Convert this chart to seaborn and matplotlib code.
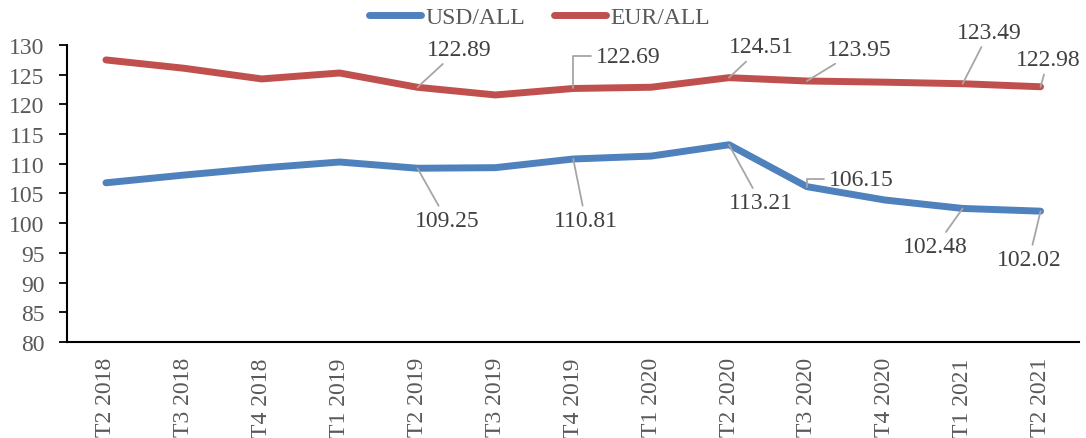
import matplotlib
matplotlib.use("Agg")
import matplotlib.pyplot as plt
import seaborn as sns
import pandas as pd

periods = ["T2 2018", "T3 2018", "T4 2018", "T1 2019", "T2 2019", "T3 2019", "T4 2019",
           "T1 2020", "T2 2020", "T3 2020", "T4 2020", "T1 2021", "T2 2021"]
usd_all = [106.8, 108.1, 109.3, 110.3, 109.25, 109.35, 110.81, 111.3, 113.21, 106.15, 103.9, 102.48, 102.02]
eur_all = [127.5, 126.1, 124.3, 125.3, 122.89, 121.6, 122.69, 122.9, 124.51, 123.95, 123.75, 123.49, 122.98]
series_names = ["USD/ALL", "EUR/ALL"]
colors = ["#4F81BD", "#C0504D"]

usd_labeled = [4, 6, 8, 9, 11, 12]
eur_labeled = [4, 6, 8, 9, 11, 12]

sns.set_theme(style="white")
plt.rcParams['font.family'] = ['Liberation Serif', 'DejaVu Serif']

df = pd.DataFrame({
    "x": list(range(len(periods))) * 2,
    "value": usd_all + eur_all,
    "series": [series_names[0]] * len(periods) + [series_names[1]] * len(periods),
})

fig = plt.figure(figsize=(10.86, 4.39), dpi=100)
ax = fig.add_axes([0.0617, 0.219, 0.9323, 0.676])
sns.lineplot(data=df, x="x", y="value", hue="series", palette=colors, linewidth=5,
             ax=ax, legend=True, solid_capstyle="round")

ax.set_xlim(-0.5, 12.5)
ax.set_ylim(80, 130)
ax.set_yticks(range(80, 131, 5))
ax.set_xticks(range(len(periods)))
ax.set_xticklabels(periods, rotation=90, fontsize=17, color="#595959")
ax.tick_params(axis="y", labelsize=17, labelcolor="#595959", length=6, width=1.3,
               direction="out", left=True, color="black", pad=10)
ax.tick_params(axis="x", length=0, pad=11)
ax.set_xlabel("")
ax.set_ylabel("")
for s in ["top", "right"]:
    ax.spines[s].set_visible(False)
for s in ["left", "bottom"]:
    ax.spines[s].set_color("black")
    ax.spines[s].set_linewidth(1.5)

leg = ax.legend(loc="center", bbox_to_anchor=(0.467, 1.094), ncol=2, frameon=False,
                fontsize=17, handlelength=2.2, columnspacing=1.2, handletextpad=0.2,
                borderaxespad=0, borderpad=0)
for t in leg.get_texts():
    t.set_color("#595959")

lab_kw = dict(fontsize=17, color="#404040", annotation_clip=False)
arrow = dict(arrowstyle="-", color="#A6A6A6", lw=1.3, shrinkA=1, shrinkB=0)
elbow = dict(arrowstyle="-", color="#A6A6A6", lw=1.3, shrinkA=1, shrinkB=0,
             connectionstyle="angle,angleA=0,angleB=90,rad=0")

eur_text_pos = {4: (4.53, 129.3), 6: (6.29, 128.1), 8: (8.42, 129.7), 9: (9.67, 129.3),
                11: (11.34, 132.2), 12: (12.1, 127.6)}
for i in eur_labeled:
    tx, ty = eur_text_pos[i]
    if i == 6:
        ax.annotate(f"{eur_all[i]:.2f}", xy=(i, eur_all[i]), xytext=(tx, ty), ha="left",
                    va="center", arrowprops=elbow, **lab_kw)
    else:
        ax.annotate(f"{eur_all[i]:.2f}", xy=(i, eur_all[i]), xytext=(tx, ty), ha="center",
                    va="center", arrowprops=arrow, **lab_kw)

usd_text_pos = {4: (4.38, 100.4), 6: (6.16, 100.4), 8: (8.41, 103.4), 9: (9.28, 107.4),
                11: (10.65, 96.0), 12: (11.85, 93.8)}
for i in usd_labeled:
    tx, ty = usd_text_pos[i]
    if i == 9:
        ax.annotate(f"{usd_all[i]:.2f}", xy=(i, usd_all[i]), xytext=(tx, ty), ha="left",
                    va="center", arrowprops=elbow, **lab_kw)
    else:
        ax.annotate(f"{usd_all[i]:.2f}", xy=(i, usd_all[i]), xytext=(tx, ty), ha="center",
                    va="center", arrowprops=arrow, **lab_kw)

fig.savefig("out.png", dpi=100)
